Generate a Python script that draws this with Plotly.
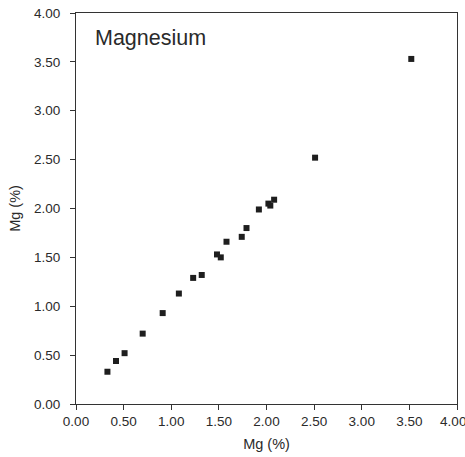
import plotly.graph_objects as go

mg_x = [0.33, 0.42, 0.51, 0.70, 0.91, 1.08, 1.23, 1.32, 1.48, 1.52, 1.58,
        1.74, 1.79, 1.92, 2.02, 2.04, 2.08, 2.51, 3.52]
mg_y = [0.33, 0.44, 0.52, 0.72, 0.93, 1.13, 1.29, 1.32, 1.53, 1.50, 1.66,
        1.71, 1.80, 1.99, 2.05, 2.03, 2.09, 2.52, 3.53]
tick_vals = [0, 0.5, 1, 1.5, 2, 2.5, 3, 3.5, 4]
tick_text = ["0.00", "0.50", "1.00", "1.50", "2.00", "2.50", "3.00", "3.50", "4.00"]
title_text = "Magnesium"
axis_title = "Mg (%)"

font_family = "Liberation Sans, Arial, sans-serif"
text_color = "#2a2a2a"

fig = go.Figure()
fig.add_trace(go.Scatter(
    x=mg_x, y=mg_y, mode="markers",
    marker=dict(symbol="square", size=6, color="#1e1e1e"),
    showlegend=False,
))

axis_common = dict(
    range=[0, 4], tickvals=tick_vals,
    showgrid=False, zeroline=False, showline=True, mirror=True,
    linecolor="#333333", linewidth=1,
    ticks="outside", ticklen=5, tickcolor="#333333", tickwidth=1,
    tickfont=dict(family=font_family, size=13.5, color=text_color),
    title=dict(text=axis_title, font=dict(family=font_family, size=14.5, color=text_color)),
    automargin=False, ticklabeloverflow="allow",
)

# last x label padded so that it sits slightly left of the window edge, as in the reference
x_tick_text = tick_text[:-1] + [tick_text[-1] + "\u00a0\u00a0"]

fig.update_xaxes(**axis_common, ticktext=x_tick_text)
fig.update_yaxes(**axis_common, ticktext=tick_text)
fig.update_xaxes(title_standoff=10, ticklabelstandoff=0)
fig.update_yaxes(title_standoff=9, ticklabelstandoff=7)

fig.add_annotation(
    x=0.18, y=3.74, xref="x", yref="y", text=title_text, showarrow=False,
    xanchor="left", yanchor="middle",
    font=dict(family=font_family, size=21.5, color=text_color),
)

fig.update_layout(
    width=465, height=457,
    margin=dict(l=76, r=8, t=13, b=53),
    plot_bgcolor="white", paper_bgcolor="white",
)

fig.write_html(
    "out.html",
    config={"displayModeBar": False},
    post_script="document.body.style.margin='0';document.body.style.overflow='hidden';",
)
